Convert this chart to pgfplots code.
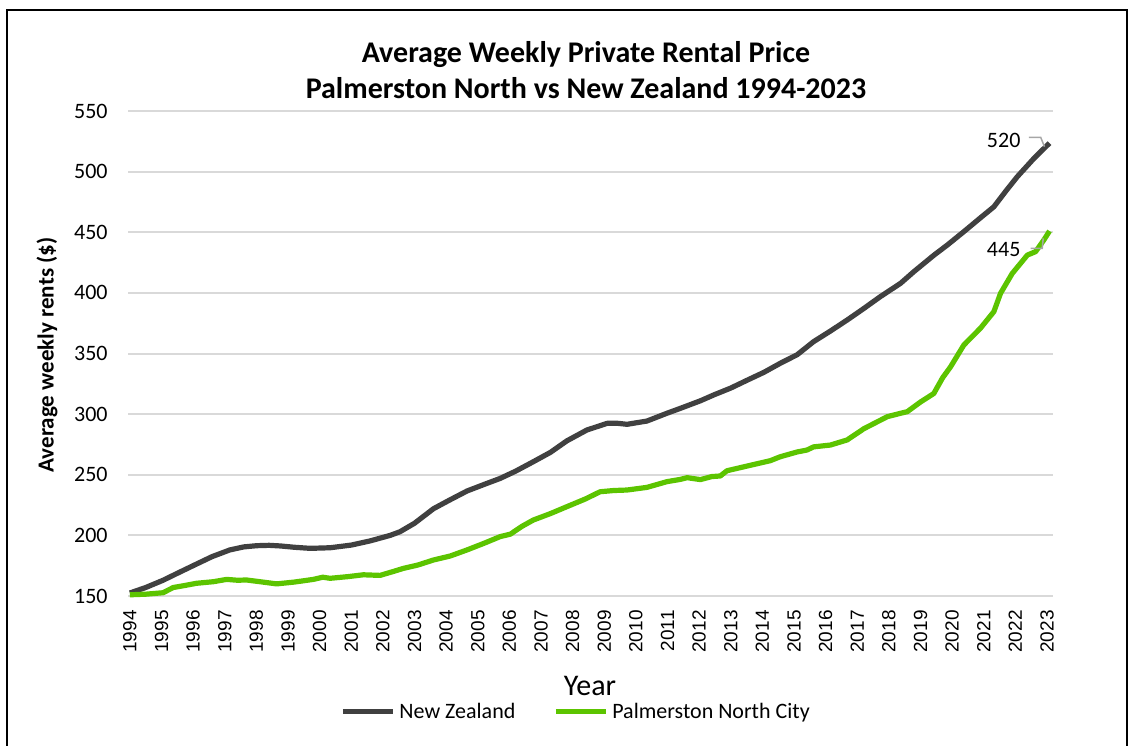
\documentclass[border=0pt]{standalone}
\usepackage{pgfplots}
\pgfplotsset{compat=1.18}
\usepackage{fontspec}
\setmainfont{Carlito}
\newfontfamily\arialfont{Liberation Sans}
\definecolor{nzgray}{HTML}{404040}
\definecolor{pngreen}{HTML}{5CC400}
\definecolor{gridgray}{HTML}{D9D9D9}
\definecolor{leadergray}{HTML}{A6A6A6}
\begin{document}
\begin{tikzpicture}
\useasboundingbox (0,0) rectangle (564pt,372.5pt);
\draw[black, line width=1pt] (3.5pt,-5pt) -- (3.5pt,367.5pt) -- (563.5pt,367.5pt) -- (563.5pt,-5pt);
\begin{axis}[
  at={(64pt,74.5pt)}, anchor=south west,
  scale only axis, width=462.5pt, height=242.5pt,
  xmin=1993.94, xmax=2023.19, ymin=150, ymax=550,
  xtick={1994,1995,...,2023},
  ytick={150,200,...,550},
  major tick length=0pt,
  axis line style={draw=none},
  ymajorgrids, major grid style={gridgray, line width=1pt},
  /pgf/number format/1000 sep={},
  /pgf/number format/assume math mode=true,
  xticklabel style={rotate=90, anchor=east, inner sep=0pt, font=\arialfont\fontsize{9.5}{10}\selectfont},
  xticklabel shift=7pt,
  yticklabel style={anchor=east, inner sep=0pt, font=\fontsize{11}{12}\selectfont},
  yticklabel shift=10pt,
  clip=false,
  legend columns=2,
  legend style={at={(0.4855,-0.239)}, anchor=center, draw=none, fill=none,
    font=\fontsize{11}{12}\selectfont, inner sep=0pt,
    /tikz/every even column/.append style={column sep=17pt}},
  legend image code/.code={\draw[#1, line width=2.5pt] (0pt,0pt) -- (25pt,0pt);},
]
\addplot[nzgray, line width=2.6pt, line join=round] coordinates {
(1994.00,152.5) (1994.50,157) (1995.05,163) (1995.60,170) (1996.11,176.4)
(1996.60,182.5) (1997.16,188) (1997.60,190.5) (1998.01,191.5) (1998.40,191.8)
(1998.75,191.3) (1999.20,190.2) (1999.70,189.3) (2000.33,189.8) (2001.00,192)
(2001.59,195.4) (2002.23,200) (2002.54,203) (2003.00,210) (2003.60,222)
(2004.10,229) (2004.66,236.6) (2005.20,242) (2005.71,247) (2006.20,253)
(2006.76,260.8) (2007.30,268.5) (2007.82,278) (2008.45,286.9) (2009.09,292.4)
(2009.40,292.5) (2009.72,291.6) (2010.35,294.3) (2010.98,300.7) (2011.41,304.8)
(2012.04,311) (2012.46,315.8) (2013.00,321.5) (2013.52,328) (2014.05,334.5)
(2014.57,342) (2015.10,349) (2015.62,359.8) (2016.15,368.5) (2016.68,377.6)
(2017.20,387) (2017.73,396.9) (2018.37,407.9) (2018.79,417.5) (2019.42,431)
(2019.85,439.5) (2020.37,450.5) (2020.90,462) (2021.32,471) (2021.70,484)
(2022.06,495.8) (2022.59,511) (2022.90,519) (2023.08,523.5)
};
\addlegendentry{New Zealand}
\addplot[pngreen, line width=2.6pt, line join=round] coordinates {
(1994.00,151) (1994.50,151.5) (1995.05,152.7) (1995.37,157) (1995.70,158.5)
(1996.11,160.5) (1996.64,161.8) (1997.06,163.7) (1997.40,163.0) (1997.69,163.2)
(1998.20,161.5) (1998.64,160) (1999.20,161.5) (1999.80,163.7) (2000.10,165.5)
(2000.33,164.6) (2000.90,166) (2001.38,167.5) (2001.91,167) (2002.30,170)
(2002.65,172.8) (2003.10,175.5) (2003.60,179.7) (2004.13,183) (2004.66,188)
(2005.20,193.5) (2005.71,199) (2006.03,201) (2006.40,207.5) (2006.76,212.7)
(2007.30,218) (2007.82,223.7) (2008.40,230) (2008.87,236) (2009.30,237)
(2009.72,237.4) (2010.35,239.6) (2010.98,244.3) (2011.41,246.2) (2011.62,247.6)
(2012.04,246) (2012.40,248.5) (2012.67,249) (2012.88,253.3) (2013.52,257.2)
(2014.25,261.6) (2014.57,264.9) (2015.10,268.8) (2015.41,270.4) (2015.62,273)
(2016.15,274.5) (2016.68,278.7) (2017.21,288) (2017.95,297.9) (2018.37,300.7)
(2018.58,302) (2019.00,310) (2019.42,317) (2019.70,330) (2019.95,339)
(2020.37,357) (2020.90,371) (2021.32,384.5) (2021.53,399.6) (2021.90,416)
(2022.38,431.2) (2022.64,434) (2022.90,443.6) (2023.08,451)
};
\addlegendentry{Palmerston North City}
\draw[leadergray, line width=0.75pt] (axis cs:2022.43,528.3) -- (axis cs:2022.80,528.3) -- (axis cs:2022.92,520.6);
\draw[leadergray, line width=0.75pt] (axis cs:2022.48,436.8) -- (axis cs:2022.85,436.8) -- (axis cs:2022.88,445);
\node[font=\fontsize{11}{12}\selectfont] at (axis cs:2021.63,526) {520};
\node[font=\fontsize{11}{12}\selectfont] at (axis cs:2021.63,435.4) {445};
\end{axis}
\node[align=center, font=\bfseries\fontsize{15}{18}\selectfont] at (293pt,337.5pt) {Average Weekly Private Rental Price\\Palmerston North vs New Zealand 1994-2023};
\node[rotate=90, font=\bfseries\fontsize{11.5}{12}\selectfont] at (23.5pt,195pt) {Average weekly rents (\$)};
\node[font=\fontsize{15}{16}\selectfont] at (295pt,29.5pt) {Year};
\end{tikzpicture}
\end{document}
